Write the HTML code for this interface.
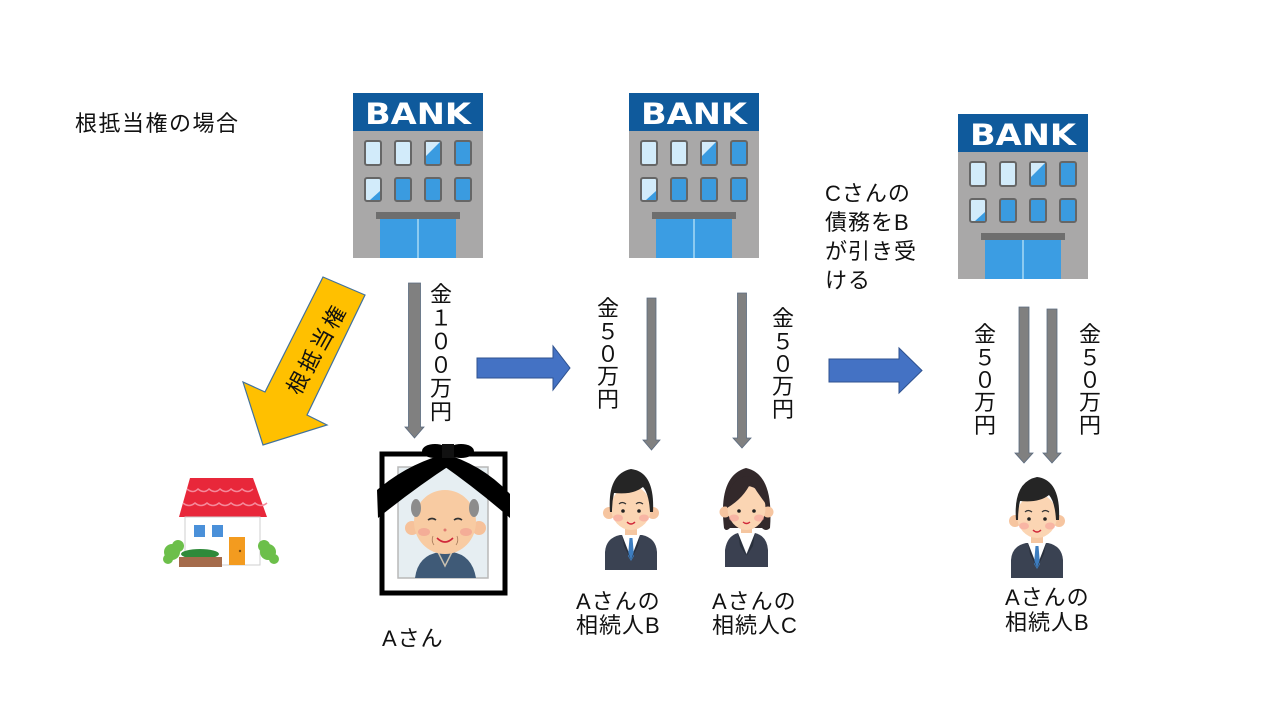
<!DOCTYPE html>
<html><head><meta charset="utf-8"><style>
html,body{margin:0;padding:0;background:#fff;}
svg{display:block;}
text{font-family:"Liberation Sans","Noto Sans CJK JP",sans-serif;fill:#111;}
</style></head><body>
<svg width="1280" height="720" viewBox="0 0 1280 720" xmlns="http://www.w3.org/2000/svg">
<defs>
<g id="bank">
 <rect x="0" y="0" width="130" height="165" fill="#a9a8a8"/>
 <rect x="0" y="0" width="130" height="38" fill="#0f5a9c"/>
 <text x="12" y="31" font-size="29" font-weight="bold" textLength="106" lengthAdjust="spacingAndGlyphs" style="font-family:'DejaVu Sans',sans-serif;fill:#fff">BANK</text>
 <g stroke="#666" stroke-width="2">
  <rect x="12" y="48" width="16" height="24" rx="2" fill="#d2ebfa"/>
  <rect x="42" y="48" width="16" height="24" rx="2" fill="#d2ebfa"/>
  <rect x="72" y="48" width="16" height="24" rx="2" fill="#3a9be0"/>
  <rect x="102" y="48" width="16" height="24" rx="2" fill="#3a9be0"/>
  <rect x="12" y="85" width="16" height="23" rx="2" fill="#d2ebfa"/>
  <rect x="42" y="85" width="16" height="23" rx="2" fill="#3a9be0"/>
  <rect x="72" y="85" width="16" height="23" rx="2" fill="#3a9be0"/>
  <rect x="102" y="85" width="16" height="23" rx="2" fill="#3a9be0"/>
 </g>
 <polygon points="73,49 87,49 73,63" fill="#d2ebfa"/>
 <polygon points="27,98 27,107 17,107" fill="#3a9be0"/>
 <rect x="23" y="119" width="84" height="7" fill="#6e6e6e"/>
 <rect x="27" y="126" width="76" height="39" fill="#3b9de3"/>
 <line x1="65" y1="126" x2="65" y2="165" stroke="#a8d8f5" stroke-width="1.5"/>
</g>
<g id="man">
 <path d="M2,102 L2,84 Q3,70 17,67 L39,67 Q53,70 54,84 L54,102 Z" fill="#3a4252"/>
 <rect x="22" y="56" width="12" height="14" fill="#f5c6a0"/>
 <polygon points="19,67 37,67 28,90" fill="#fff"/>
 <polygon points="26.5,70 29.5,70 31,88 28,93 25,88" fill="#3d7dbf"/>
 <path d="M19,67 L28,92 L21,78 Z" fill="#2a303c"/>
 <path d="M37,67 L28,92 L35,78 Z" fill="#2a303c"/>
 <circle cx="6" cy="45" r="6" fill="#f6c5a0"/>
 <circle cx="50" cy="45" r="6" fill="#f6c5a0"/>
 <ellipse cx="28" cy="40" rx="20" ry="22" fill="#fbd5b3"/>
 <path d="M7,44 Q4,6 28,1 Q52,4 50,44 L47,44 Q46,26 40,19 Q30,27 11,25 Q9,34 9,44 Z" fill="#252525"/>
 <ellipse cx="15" cy="50" rx="5" ry="3.5" fill="#f7a09a" opacity="0.6"/>
 <ellipse cx="41" cy="50" rx="5" ry="3.5" fill="#f7a09a" opacity="0.6"/>
 <circle cx="20" cy="43" r="1.8" fill="#222"/>
 <circle cx="36" cy="43" r="1.8" fill="#222"/>
 <path d="M16,36 Q19,33 23,36 M33,36 Q36,33 40,36" stroke="#333" fill="none" stroke-width="1.2"/>
 <path d="M24,54 Q28,58 32,54" stroke="#d0283a" fill="none" stroke-width="1.4"/>
</g>
</defs>

<!-- title -->
<text x="75" y="131" font-size="22" letter-spacing="1.5">根抵当権の場合</text>

<!-- banks -->
<use href="#bank" x="353" y="93"/>
<use href="#bank" x="629" y="93"/>
<use href="#bank" x="958" y="114"/>

<!-- yellow arrow -->
<polygon points="323,277 365,295 307,415 327,425 263,445 243,382 265,392" fill="#ffc000" stroke="#41719c" stroke-width="1.2"/>
<text x="0" y="0" font-size="22" letter-spacing="3" text-anchor="middle" dominant-baseline="central" transform="translate(317,349) rotate(-61)">根抵当権</text>

<!-- house -->
<polygon points="190,478 253,478 267,517 179,517" fill="#e8273a"/>
<path d="M187,489 q6,5 11,0 q6,5 11,0 q6,5 11,0 q6,5 11,0 q6,5 11,0 q6,5 11,0" stroke="#f5899a" fill="none" stroke-width="1.5"/>
<path d="M183,503 q6,5 12,0 q6,5 12,0 q6,5 12,0 q6,5 12,0 q6,5 12,0 q6,5 12,0 q6,5 12,0" stroke="#f5899a" fill="none" stroke-width="1.5"/>
<rect x="185" y="517" width="75" height="48" fill="#fff" stroke="#cfcfcf" stroke-width="1"/>
<rect x="194" y="525" width="11" height="12" fill="#4a90d9"/>
<rect x="212" y="525" width="11" height="12" fill="#4a90d9"/>
<rect x="229" y="537" width="16" height="28" fill="#f39b1f"/>
<circle cx="240" cy="551" r="1.2" fill="#7a4a10"/>
<circle cx="172" cy="552" r="8" fill="#6cbf4a"/>
<circle cx="178" cy="546" r="6" fill="#6cbf4a"/>
<circle cx="168" cy="559" r="5" fill="#6cbf4a"/>
<circle cx="268" cy="552" r="8" fill="#6cbf4a"/>
<circle cx="264" cy="546" r="6" fill="#6cbf4a"/>
<circle cx="274" cy="559" r="5" fill="#6cbf4a"/>
<ellipse cx="200" cy="554" rx="19" ry="5" fill="#2f8a3a"/>
<rect x="179" y="557" width="43" height="10" fill="#a56b4b"/>

<!-- portrait -->
<rect x="382" y="454" width="123" height="139" fill="#fff" stroke="#000" stroke-width="5"/>
<rect x="398" y="467" width="90" height="111" fill="#e6eef2" stroke="#b8b8b8" stroke-width="1.5"/>
<path d="M415,578 Q418,555 440,552 L452,552 Q472,555 476,578 Z" fill="#3f5a77"/>
<path d="M438,552 L445,566 L452,552" stroke="#c8c0b0" fill="none" stroke-width="1.5"/>
<circle cx="412" cy="528" r="7" fill="#f6c19a"/>
<circle cx="479" cy="528" r="7" fill="#f6c19a"/>
<ellipse cx="445" cy="522" rx="31" ry="32" fill="#f8cba2"/>
<ellipse cx="416" cy="508" rx="5" ry="9" fill="#8c8c8c"/>
<ellipse cx="474" cy="508" rx="5" ry="9" fill="#8c8c8c"/>
<ellipse cx="424" cy="532" rx="6" ry="4" fill="#f29a90" opacity="0.6"/>
<ellipse cx="466" cy="532" rx="6" ry="4" fill="#f29a90" opacity="0.6"/>
<path d="M428,520 Q432,517 436,520 M454,520 Q458,517 462,520" stroke="#333" fill="none" stroke-width="1.6"/>
<circle cx="445" cy="530" r="1.5" fill="#e07a70"/>
<path d="M437,538 Q445,546 453,538" stroke="#d0283a" fill="none" stroke-width="1.6"/>
<path d="M433,536 Q431,541 434,545 M457,536 Q459,541 456,545" stroke="#a67a5a" fill="none" stroke-width="0.8"/>
<path d="M450,453 Q410,462 377,490 L378,518 Q415,488 452,464 Z" fill="#000"/>
<path d="M442,453 Q482,464 510,494 L510,518 Q478,490 441,464 Z" fill="#000"/>
<ellipse cx="435" cy="451" rx="13" ry="7" fill="#000"/>
<ellipse cx="461" cy="451" rx="13" ry="7" fill="#000"/>
<rect x="442" y="444" width="12" height="14" fill="#111"/>

<!-- gray arrows -->
<g fill="#808080" stroke="#5b6b80" stroke-width="0.8">
 <polygon points="408.5,283 420.5,283 420.5,427 424,427 414.5,438 405,427 408.5,427"/>
 <polygon points="647,298 656,298 656,440 660,440 651.5,450 643,440 647,440"/>
 <polygon points="737.5,293 746.5,293 746.5,438 751,438 742,448 733,438 737.5,438"/>
 <polygon points="1019,307 1029,307 1029,453 1033,453 1024,463 1015,453 1019,453"/>
 <polygon points="1047,309 1057,309 1057,453 1061,453 1052,463 1043,453 1047,453"/>
</g>

<!-- blue arrows -->
<g fill="#4472c4" stroke="#2f528f" stroke-width="1">
 <polygon points="477,358 553,358 553,346 570,368 553,390 553,378 477,378"/>
 <polygon points="829,359 899,359 899,348 922,370.5 899,393 899,382 829,382"/>
</g>

<!-- vertical labels -->
<g font-size="22" text-anchor="middle">
 <text x="441" y="302">金</text><text x="441" y="325.5">１</text><text x="441" y="349">０</text><text x="441" y="372.5">０</text><text x="441" y="396">万</text><text x="441" y="419.5">円</text>
 <text x="608" y="316">金</text><text x="608" y="339">５</text><text x="608" y="361.5">０</text><text x="608" y="384">万</text><text x="608" y="407">円</text>
 <text x="783" y="326">金</text><text x="783" y="349">５</text><text x="783" y="371.5">０</text><text x="783" y="394">万</text><text x="783" y="417">円</text>
 <text x="985" y="342">金</text><text x="985" y="365">５</text><text x="985" y="387.5">０</text><text x="985" y="410">万</text><text x="985" y="433">円</text>
 <text x="1090" y="342">金</text><text x="1090" y="365">５</text><text x="1090" y="387.5">０</text><text x="1090" y="410">万</text><text x="1090" y="433">円</text>
</g>

<!-- C note -->
<g font-size="22" letter-spacing="1">
 <text x="825" y="201">Cさんの</text>
 <text x="825" y="230">債務をB</text>
 <text x="825" y="259">が引き受</text>
 <text x="825" y="288">ける</text>
</g>

<!-- people -->
<use href="#man" x="603" y="468"/>
<g transform="translate(718,466)">
 <path d="M6,62 Q0,10 28,2 Q56,8 52,62 Q48,66 44,62 L12,62 Q8,66 6,62 Z" fill="#33292b"/>
 <path d="M7,101 L7,84 Q9,70 20,67 L37,67 Q49,70 50,84 L50,101 Z" fill="#3a4050"/>
 <rect x="23" y="56" width="11" height="13" fill="#f5c6a0"/>
 <polygon points="20,67 37,67 28.5,88" fill="#fff"/>
 <path d="M20,67 L28.5,90 L22,80 Z" fill="#2a303c"/>
 <path d="M37,67 L28.5,90 L35,80 Z" fill="#2a303c"/>
 <circle cx="7" cy="46" r="5.5" fill="#f6c5a0"/>
 <circle cx="50" cy="46" r="5.5" fill="#f6c5a0"/>
 <ellipse cx="28.5" cy="42" rx="19" ry="22" fill="#fbd5b3"/>
 <path d="M9,42 Q9,12 30,10 Q48,12 48,38 Q40,28 33,16 Q26,32 9,42 Z" fill="#33292b"/>
 <ellipse cx="16" cy="52" rx="5" ry="3.5" fill="#f7a09a" opacity="0.6"/>
 <ellipse cx="41" cy="52" rx="5" ry="3.5" fill="#f7a09a" opacity="0.6"/>
 <circle cx="21" cy="45" r="1.8" fill="#222"/>
 <circle cx="36" cy="45" r="1.8" fill="#222"/>
 <path d="M25,56 Q28.5,59 32,56" stroke="#d0283a" fill="none" stroke-width="1.4"/>
</g>
<use href="#man" x="1009" y="476"/>

<!-- bottom labels -->
<g font-size="22" letter-spacing="1">
 <text x="382" y="646">Aさん</text>
 <text x="576" y="609">Aさんの</text>
 <text x="576" y="633">相続人B</text>
 <text x="712" y="609">Aさんの</text>
 <text x="712" y="633">相続人C</text>
 <text x="1005" y="605">Aさんの</text>
 <text x="1005" y="630">相続人B</text>
</g>
</svg>
</body></html>
